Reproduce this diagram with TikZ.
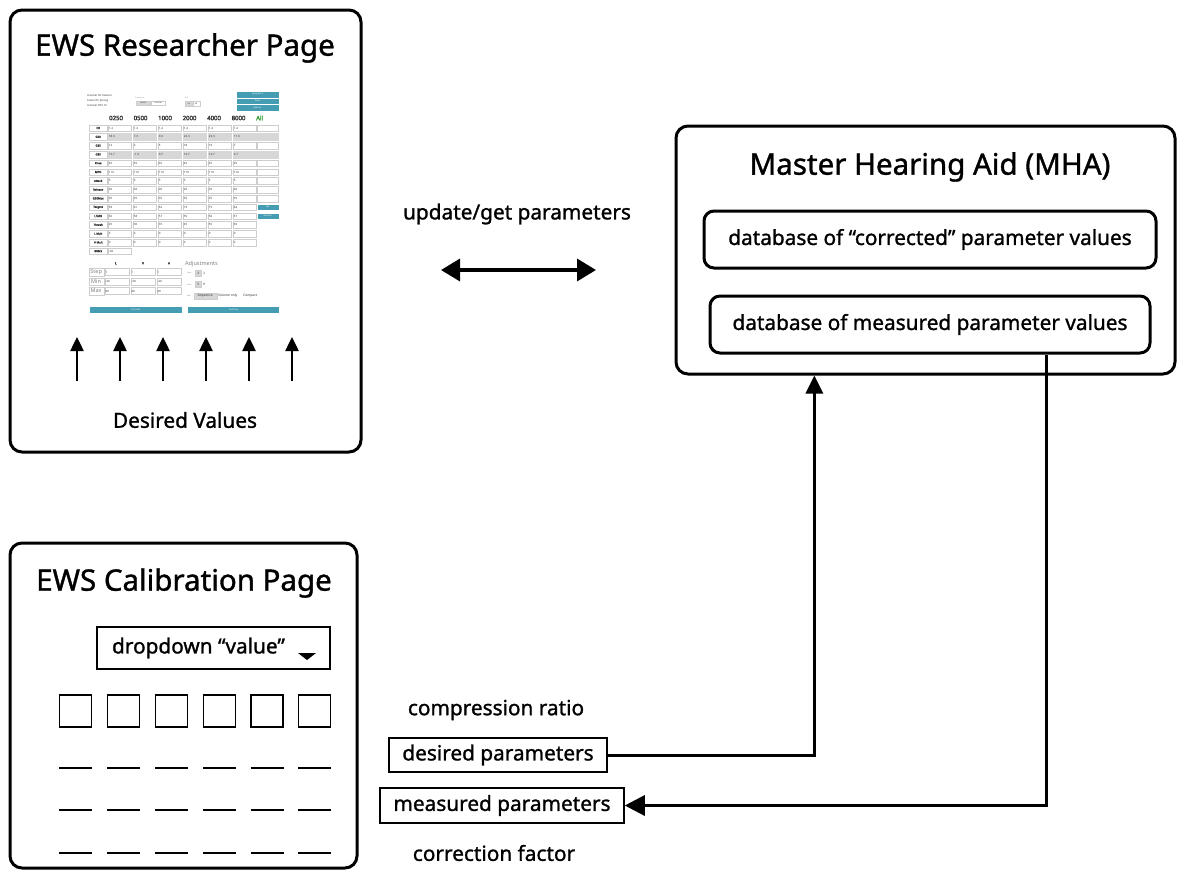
\documentclass[tikz,border=0pt]{standalone}
\usepackage{fontspec}
\setmainfont{Noto Sans}
\newfontfamily\djv{DejaVu Sans}
\newfontfamily\hvy{Noto Sans}[FakeBold=1.2]
\newfontfamily\hdrf{Noto Sans}[FakeBold=2.5]
\usetikzlibrary{arrows.meta,calc}
\definecolor{uiteal}{RGB}{69,157,179}
\definecolor{uigrey}{RGB}{215,215,215}
\definecolor{uiline}{RGB}{205,205,205}
\definecolor{uitext}{RGB}{50,50,50}
\definecolor{uigreen}{RGB}{60,160,60}
\newcommand\fsz[1]{\fontsize{#1}{#1}\selectfont}
\tikzset{
  bigbox/.style={draw, line width=3pt, rounded corners=12pt, inner sep=0pt},
  dbbox/.style={draw, line width=3pt, rounded corners=10pt, inner sep=0pt, font=\hvy\fsz{20.8}},
  plainbox/.style={draw, line width=1.5pt, inner sep=0pt, font=\hvy\fsz{20.8}},
  titletext/.style={font=\hvy\fsz{29.5}, inner sep=0pt},
  bodytext/.style={font=\hvy\fsz{20.8}, inner sep=0pt},
  conn/.style={line width=3pt},
  sq/.style={draw, line width=1.5pt, minimum size=32pt, inner sep=0pt},
  vcell/.style={draw=uiline, line width=0.35pt, anchor=west, minimum height=6.6pt, text width=21.4pt, inner xsep=0.8pt, inner ysep=0pt, align=left, font=\fsz{2.9}, text=uitext},
  gcell/.style={vcell, fill=uigrey, draw=uigrey},
  lcell/.style={draw=uiline, line width=0.35pt, anchor=west, minimum height=6.6pt, minimum width=18pt, inner sep=0pt, font=\hdrf\fsz{2.8}, text=uitext},
  tiny/.style={anchor=west, inner sep=0pt, font=\fsz{2.7}, text=uitext},
  tinier/.style={anchor=west, inner sep=0pt, font=\fsz{1.8}, text=gray},
  uibtn/.style={draw=uiline, line width=0.3pt, inner sep=0pt, minimum height=4.6pt, font=\fsz{1.8}, text=uitext},
  tealbtn/.style={fill=uiteal, draw=white, line width=0.3pt, inner sep=0pt, text=white, font=\fsz{2.2}},
  hdr/.style={anchor=west, inner sep=0pt, font=\hdrf\fsz{6}, text=uitext},
  midtext/.style={anchor=west, inner sep=0pt, font=\fsz{5.5}, text=gray},
}
\begin{document}
\begin{tikzpicture}[x=1pt,y=-1pt]
\useasboundingbox (0,0) rectangle (1178,871);

% ---------- big boxes ----------
\node[bigbox, minimum width=351pt, minimum height=442pt] (res) at (185.5,231) {};
\node[bigbox, minimum width=499pt, minimum height=248pt] (mha) at (925.5,250) {};
\node[bigbox, minimum width=347pt, minimum height=325pt] (cal) at (183.5,705.5) {};

\node[titletext] (restitle) at (185,48) {EWS Researcher Page};
\node[titletext] (mhatitle) at (930,167) {Master Hearing Aid (MHA)};
\node[titletext] (caltitle) at (184,583) {EWS Calibration Page};

\node[dbbox, minimum width=452pt, minimum height=57pt] (db1) at (930,239.5) {database of “corrected” parameter values};
\node[dbbox, minimum width=440pt, minimum height=57pt] (db2) at (930,324.5) {database of measured parameter values};

% ---------- screenshot (researcher page) ----------
\node[tiny] (lid) at (87,95) {Listener ID: listener};
\node[tiny] (tid) at (87,100.3) {Tester ID: phung};
\node[tiny] (pin) at (87,105.6) {Listener PIN: 01};
\node[tinier] (cvia) at (135,98) {Control via};
\node[uibtn, fill=uigrey, minimum width=14pt, anchor=west] (bcr) at (136,103) {CR/G65};
\node[uibtn, minimum width=14pt, anchor=west] (bg50) at (151,103) {G50/G80};
\node[tinier] (afc) at (185,98) {AFC};
\node[uibtn, fill=uigrey, minimum width=7.5pt, anchor=west] (bon) at (185,103.5) {On};
\node[uibtn, minimum width=7pt, anchor=west] (boff) at (192.5,103.5) {Off};
\node[tealbtn, minimum width=43pt, minimum height=6.6pt] (prog) at (257.5,94.5) {program {\djv ▾}};
\node[tealbtn, minimum width=43pt, minimum height=6.6pt] (save) at (257.5,101.1) {Save};
\node[tealbtn, minimum width=43pt, minimum height=6.6pt] (saveas) at (257.5,107.7) {Save as};

\foreach \h/\x [count=\k] in {0250/109,0500/133.5,1000/158,2000/182.5,4000/207,8000/231.5}
  \node[hdr] (hd\k) at (\x,118) {\h};
\node[hdr, text=uigreen] (hdall) at (256,118) {All};

\foreach \lab/\vals/\vs [count=\i from 0] in {
  CR/{1.4,1.4,1.4,1.4,1.4,1.4}/vcell,
  G50/{18.3,7.3,9.3,22.3,23.3,11.3}/gcell,
  G65/{12,3,5,18,19,7}/vcell,
  G80/{12.7,-1.3,0.7,12.7,14.7,2.7}/gcell,
  Knee/{45,45,45,45,45,45}/vcell,
  MPO/{110,110,110,110,110,110}/vcell,
  Attack/{5,5,5,5,5,5}/vcell,
  Release/{20,20,20,20,20,20}/vcell,
  G50Max/{35,35,35,35,35,35}/vcell,
  Targets/{59,61,62,73,75,64}/vcell,
  LTASS/{65,58,57,55,56,57}/vcell,
  Thresh/{25,30,35,45,55,65}/vcell,
  L Mult/{3,3,0,0,0,0}/vcell,
  H Mult/{0,0,0,3,3,3}/vcell,
  BRMS/{-30}/vcell}{
  \pgfmathsetmacro\yy{128+8.8*\i}
  \node[lcell] (lab\i) at (89,\yy) {\lab};
  \foreach \v [count=\j from 0] in \vals {
    \pgfmathsetmacro\xx{108+25*\j}
    \node[\vs] (c\i-\j) at (\xx,\yy) {\v};
  }
}
\foreach \i/\st in {0/vcell,1/gcell,2/vcell,3/gcell,4/vcell,5/vcell,6/vcell,7/vcell,8/vcell}{
  \pgfmathsetmacro\yy{128+8.8*\i}
  \node[\st, text width=20pt] (all\i) at (256.5,\yy) {};
}
\node[tealbtn, minimum width=22pt, minimum height=6.2pt, anchor=west] (bset) at (256.5,207.2) {Set};
\node[tealbtn, minimum width=22pt, minimum height=6.2pt, anchor=west] (bmon) at (256.5,216) {Monitor};

% L V H block
\node[inner sep=0pt, font=\hdrf\fsz{3.2}, text=uitext] (colL) at (116,263.3) {L};
\node[inner sep=0pt, font=\hdrf\fsz{3.2}, text=uitext] (colV) at (143,263.3) {V};
\node[inner sep=0pt, font=\hdrf\fsz{3.2}, text=uitext] (colH) at (169,263.3) {H};
\foreach \lab/\a/\b/\c/\yy in {Step/1/1/1/272, Min/-40/-40/-40/281.5, Max/40/40/40/291}{
  \node[draw=uiline, line width=0.3pt, anchor=west, minimum width=15pt, minimum height=7.4pt, inner sep=0pt, font=\fsz{5.5}, text=gray] (s\lab) at (88.5,\yy) {\lab};
  \node[vcell, minimum height=7.2pt, text width=22.4pt] (s\lab1) at (104.5,\yy) {\a};
  \node[vcell, minimum height=7.2pt, text width=22.4pt] (s\lab2) at (130.5,\yy) {\b};
  \node[vcell, minimum height=7.2pt, text width=22.4pt] (s\lab3) at (156.5,\yy) {\c};
}
\node[midtext] (adj) at (185,264) {Adjustments};
\node[tinier] (numl) at (187,273) {Num:};
\node[uibtn, fill=uigrey, minimum width=6pt, minimum height=6pt, font=\fsz{3}, anchor=west] (n3) at (195,273) {3};
\node[uibtn, draw=none, minimum width=6pt, minimum height=6pt, font=\fsz{3}, anchor=west] (n2) at (201,273) {2};
\node[tinier] (finl) at (187,284.5) {Final:};
\node[uibtn, fill=uigrey, minimum width=6pt, minimum height=6pt, font=\fsz{3}, anchor=west] (fv) at (195,284.5) {V};
\node[uibtn, draw=none, minimum width=6pt, minimum height=6pt, font=\fsz{3}, anchor=west] (fh) at (201,284.5) {H};
\node[tinier] (seql) at (187,296) {Seq:};
\node[uibtn, fill=uigrey, minimum width=23pt, minimum height=6.6pt, font=\fsz{3.3}, anchor=west] (sseq) at (193.5,296) {Sequence};
\node[inner sep=0pt, font=\fsz{3.3}, text=uitext, anchor=west] (svol) at (218,296) {Volume only};
\node[inner sep=0pt, font=\fsz{3.3}, text=uitext, anchor=west] (scomp) at (243,296) {Compact};
\node[tealbtn, draw=none, minimum width=92pt, minimum height=6pt] (trans) at (136,310) {Transmit};
\node[tealbtn, draw=none, minimum width=91pt, minimum height=6pt] (cont) at (233.5,310) {Continue};

% up arrows
\foreach \x [count=\k] in {77,120,163,206,249,292}{
  \coordinate (ua\k) at (\x,381);
  \coordinate (ub\k) at (\x,337);
  \draw[line width=2.5pt, -{Triangle[length=14pt,width=13pt]}] (ua\k) -- (ub\k);
}
\node[bodytext] (desval) at (185,420) {Desired Values};

% ---------- update/get ----------
\node[bodytext] (upd) at (517,214) {update/get parameters};
\coordinate (bl) at (441,270);
\coordinate (br) at (596,270);
\draw[line width=3.5pt, {Triangle[length=19pt,width=22pt]}-{Triangle[length=19pt,width=22pt]}] (bl) -- (br);

% ---------- calibration page ----------
\node[plainbox, minimum width=233pt, minimum height=42pt] (dd) at (213.5,648) {};
\node[bodytext] (ddtext) at (198.5,648) {dropdown “value”};
\fill (298,653) -- (316,653) -- (307,660) -- cycle;
\foreach \x [count=\k] in {59,107,155,203,250.5,298}{
  \node[sq] (sq\k) at (\x+16.5,711) {};
  \draw[line width=1.5pt] (\x,768) -- (\x+33,768);
  \draw[line width=1.5pt] (\x,810) -- (\x+33,810);
  \draw[line width=1.5pt] (\x,853) -- (\x+33,853);
}

\node[bodytext] (comp) at (496,710) {compression ratio};
\node[plainbox, minimum width=218pt, minimum height=34pt] (des) at (498,755) {desired parameters};
\node[plainbox, minimum width=244pt, minimum height=35pt] (meas) at (502,805.5) {measured parameters};
\node[bodytext] (corr) at (494,853) {correction factor};

% ---------- connectors ----------
\draw[conn, -{Triangle[length=18pt,width=17pt]}] (des.east) -| ($(mha.south west)!0.2786!(mha.south east)$);
\draw[conn, -{Triangle[length=20pt,width=20pt]}] ($(db2.south west)!0.7636!(db2.south east)$) |- (meas.east);
\end{tikzpicture}
\end{document}
